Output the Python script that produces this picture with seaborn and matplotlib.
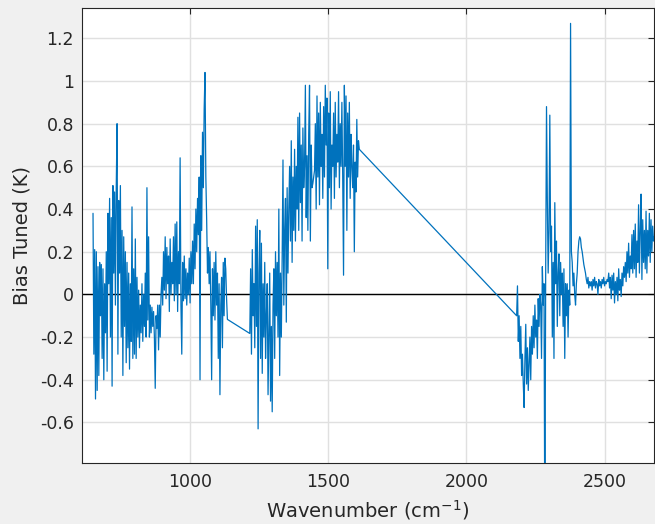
import numpy as np
import pandas as pd
import matplotlib
matplotlib.use("Agg")
import matplotlib.pyplot as plt
import seaborn as sns

# ---- data ----
# segment 1: 650 .. 1136 cm-1, step 3
seg1_start, seg1_step = 650, 3
seg1_vals = [
    0.38, -0.28, 0.21, -0.49, 0.2, -0.45, 0.13, -0.38, 0.15, -0.1,
    0.14, -0.3, 0.12, -0.4, 0.05, -0.18, 0.2, -0.36, 0.38, 0.05,
    0.45, -0.2, 0.36, -0.43, 0.51, 0.1, 0.48, -0.05, 0.5, 0.8,
    -0.28, 0.44, 0.1, 0.51, -0.2, 0.3, -0.38, 0.27, -0.15, 0.2,
    -0.32, 0.15, -0.25, 0.1, -0.35, 0.05, -0.22, 0.41, -0.3, 0.12,
    -0.28, 0.26, -0.3, 0.08, -0.2, 0.02, -0.25, -0.05, -0.18, 0.05,
    -0.22, 0.0, -0.15, 0.1, -0.2, 0.5, -0.12, 0.27, -0.2, -0.05,
    -0.18, -0.06, -0.15, -0.08, -0.2, -0.44, -0.1, -0.16, -0.05, -0.26,
    -0.05, -0.2, 0.0, 0.08, -0.05, 0.2, 0.02, 0.27, -0.02, 0.22,
    0.05, 0.18, -0.08, 0.26, 0.0, 0.15, 0.05, 0.27, -0.03, 0.33,
    0.0, 0.34, -0.08, 0.2, 0.05, 0.64, -0.05, -0.28, 0.15, -0.03,
    0.18, -0.02, 0.12, -0.05, 0.1, 0.0, 0.17, -0.04, 0.2, 0.05,
    0.25, 0.05, 0.33, 0.12, 0.4, 0.2, 0.45, 0.28, 0.55, -0.4,
    0.65, 0.3, 0.76, 0.5, 0.87, 1.04, 0.55, 0.35, 0.1, 0.22,
    0.05, 0.2, -0.05, -0.4, 0.12, -0.1, 0.15, -0.12, 0.2, -0.05,
    0.1, -0.3, 0.05, -0.47, -0.05, 0.08, -0.25, 0.15, -0.1, 0.17,
    0.12, -0.02, -0.117,
]
# segment 2: 1217 .. 1613 cm-1, step 3
seg2_start, seg2_step = 1217, 3
seg2_vals = [
    -0.183, 0.12, -0.28, 0.21, -0.1, 0.05, -0.25, 0.32, -0.15, 0.35,
    -0.63, 0.1, 0.3, -0.3, 0.24, -0.37, 0.05, -0.2, 0.15, -0.3,
    -0.1, 0.05, -0.47, -0.2, 0.1, -0.5, -0.15, -0.55, -0.05, 0.12,
    -0.3, 0.2, -0.1, 0.15, -0.2, 0.4, -0.38, 0.1, -0.2, 0.17,
    0.63, -0.05, 0.3, 0.45, -0.13, 0.5, 0.1, 0.4, 0.6, 0.25,
    0.72, 0.15, 0.55, 0.3, 0.68, 0.25, 0.6, 0.4, 0.83, 0.3,
    0.85, 0.43, 0.7, 0.25, 0.78, 0.5, 0.6, 0.98, 0.36, 0.65,
    0.3, 0.75, 0.98, 0.25, 0.7, 0.5, 0.52, 0.55, 0.58, 0.8,
    0.4, 0.93, 0.55, 0.85, 0.42, 0.9, 0.6, 0.75, 0.45, 0.88,
    0.55, 0.98, 0.7, 0.92, 0.12, 0.85, 0.5, 0.95, 0.4, 0.7,
    0.6, 0.85, 0.45, 0.9, 0.55, 0.75, 0.62, 0.95, 0.5, 0.8,
    0.6, 0.9, 0.55, 0.09, 0.98, 0.6, 0.93, 0.3, 0.85, 0.55,
    0.9, 0.45, 0.75, 0.6, 0.5, 0.7, 0.2, 0.62, 0.48, 0.82,
    0.55, 0.72, 0.68,
]
# segment 3: 2182 .. 2680 cm-1, step 3
seg3_start, seg3_step = 2182, 3
seg3_vals = [
    -0.1, 0.04, -0.22, -0.1, -0.3, -0.15, -0.38, -0.28, -0.42, -0.53,
    -0.3, -0.14, -0.42, -0.25, -0.45, -0.32, -0.2, -0.4, -0.15, -0.28,
    -0.1, -0.25, -0.05, -0.2, -0.12, -0.3, -0.02, -0.15, 0.0, -0.05,
    -0.3, 0.13, -0.05, 0.05, -1.2, 0.1, 0.88, 0.44, 0.1, 0.3,
    0.84, 0.2, 0.32, -0.2, 0.15, -0.3, 0.43, 0.05, 0.25, -0.15,
    0.1, 0.19, -0.1, 0.15, 0.0, 0.1, -0.15, 0.12, -0.3, 0.05,
    -0.1, 0.05, -0.2, 0.02, -0.05, 1.27, 0.2, 0.15, 0.04, 0.1,
    0.0, -0.05, 0.05, 0.1, 0.2, 0.25, 0.27, 0.26, 0.22, 0.2,
    0.17, 0.14, 0.12, 0.1, 0.07, 0.05, 0.08, 0.03, 0.06, 0.04,
    0.06, 0.02, 0.07, 0.04, 0.08, 0.03, 0.06, 0.05, 0.0, 0.07,
    0.04, 0.06, 0.03, 0.07, 0.05, 0.08, 0.04, 0.06, 0.05, 0.07,
    0.06, 0.1, 0.03, 0.08, -0.02, 0.09, 0.02, 0.1, -0.04, 0.06,
    0.0, 0.08, -0.03, 0.12, 0.02, 0.07, -0.01, 0.1, 0.04, 0.13,
    0.08, 0.15, 0.06, 0.2, 0.1, 0.24, 0.08, 0.18, 0.12, 0.28,
    0.1, 0.3, 0.12, 0.33, 0.08, 0.25, 0.15, 0.42, 0.1, 0.3,
    0.47, 0.07, 0.35, 0.15, 0.3, 0.12, 0.39, 0.1, 0.3, 0.18,
    0.38, 0.15, 0.35, 0.2, 0.32, 0.25, 0.27,
]

x_ticks = [1000, 1500, 2000, 2500]
y_ticks = [-0.6, -0.4, -0.2, 0, 0.2, 0.4, 0.6, 0.8, 1, 1.2]
y_ticklabels = ["-0.6", "-0.4", "-0.2", "0", "0.2", "0.4", "0.6", "0.8", "1", "1.2"]
x_label = "Wavenumber (cm$^{-1}$)"
y_label = "Bias Tuned (K)"

# ---- build table ----
def seg_x(start, step, vals):
    return [start + step * i for i in range(len(vals))]

wn = seg_x(seg1_start, seg1_step, seg1_vals) + seg_x(seg2_start, seg2_step, seg2_vals) + seg_x(seg3_start, seg3_step, seg3_vals)
bias = seg1_vals + seg2_vals + seg3_vals
df = pd.DataFrame({"wn": wn, "bias": bias})

sns.set_style("white")
plt.rcParams["font.family"] = ["DejaVu Sans"]

fig = plt.figure(figsize=(6.55, 5.24), dpi=100, facecolor="#f0f0f0")
ax = fig.add_axes([0.1247, 0.1164, 0.8743, 0.8683])
ax.set_facecolor("white")

ax.axhline(0, color="black", lw=1.0, zorder=2)
sns.lineplot(data=df, x="wn", y="bias", sort=False, estimator=None,
             color="#0072BD", lw=0.9, ax=ax, zorder=3)

ax.set_xlim(609, 2680)
ax.set_ylim(-0.79, 1.342)
ax.set_xticks(x_ticks)
ax.set_xticklabels([str(t) for t in x_ticks])
ax.set_yticks(y_ticks)
ax.set_yticklabels(y_ticklabels)

ax.grid(True, color="#e0e0e0", lw=1.0, zorder=0)
ax.set_axisbelow(True)
for s in ax.spines.values():
    s.set_visible(True)
    s.set_color("#262626")
    s.set_linewidth(0.8)

ax.tick_params(axis="both", which="both", direction="in", length=4, width=0.8,
               colors="#262626", labelsize=12.5, top=True, right=True,
               labelcolor="#262626")
ax.tick_params(axis="x", pad=7.5)
ax.tick_params(axis="y", pad=5.5)

ax.set_xlabel(x_label, fontsize=14, color="#262626", labelpad=5)
ax.set_ylabel(y_label, fontsize=14, color="#262626", labelpad=6)

fig.savefig("out.png", dpi=100, facecolor=fig.get_facecolor())
